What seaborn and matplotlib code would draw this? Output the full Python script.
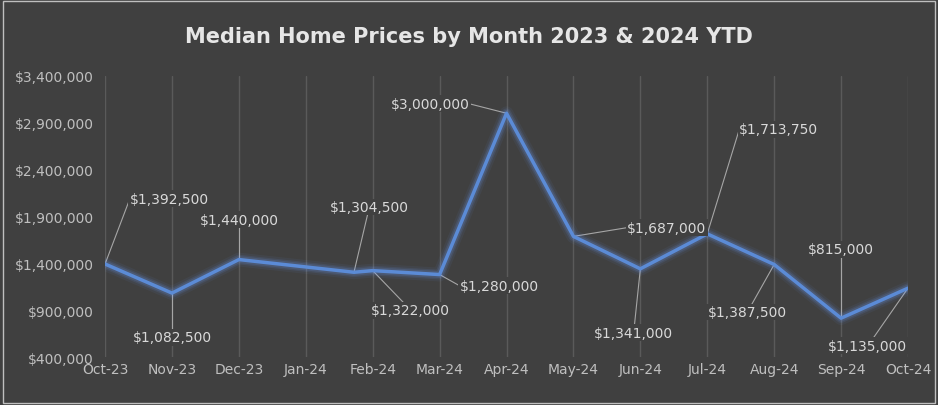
import matplotlib
matplotlib.use("Agg")
import matplotlib.pyplot as plt
import seaborn as sns
import pandas as pd

months = ["Oct-23","Nov-23","Dec-23","Jan-24","Feb-24","Mar-24","Apr-24","May-24","Jun-24","Jul-24","Aug-24","Sep-24","Oct-24"]
xpos = [0, 1, 2, 3.72, 4, 5, 6, 7, 8, 9, 10, 11, 12]
prices = [1392500, 1082500, 1440000, 1304500, 1322000, 1280000, 3000000, 1687000, 1341000, 1713750, 1387500, 815000, 1135000]
labels = ["$1,392,500","$1,082,500","$1,440,000","$1,304,500","$1,322,000","$1,280,000","$3,000,000","$1,687,000","$1,341,000","$1,713,750","$1,387,500","$815,000","$1,135,000"]
# label positions (x, y, ha)
lpos = [(0.37,2087000,"left"),(1.0,613000,"center"),(2.0,1863000,"center"),(3.95,2000000,"center"),
        (4.57,900000,"center"),(5.3,1160000,"left"),(5.45,3100000,"right"),(7.8,1780000,"left"),
        (7.9,660000,"center"),(9.48,2830000,"left"),(9.6,880000,"center"),(11.0,1550000,"center"),
        (11.4,520000,"center")]

df = pd.DataFrame({"x": xpos, "price": prices})
sns.set_style("dark")
bg = "#404040"
fig = plt.figure(figsize=(9.38, 4.06), dpi=100, facecolor=bg)
ax = fig.add_axes([0.112, 0.118, 0.856, 0.693])
ax.set_facecolor(bg)
for lw, a in [(10, 0.06), (7, 0.1), (5, 0.15)]:
    ax.plot(xpos, prices, color="#6fa0ff", lw=lw, alpha=a, solid_joinstyle="round")
sns.lineplot(data=df, x="x", y="price", ax=ax, color="#5b8bd6", lw=2.5)
for x, y, t, (tx, ty, ha) in zip(xpos, prices, labels, lpos):
    ax.plot([x, tx], [y, ty], color="#a6a6a6", lw=0.8, zorder=1)
    ax.text(tx, ty, t, color="#d9d9d9", fontsize=10, ha=ha, va="center", zorder=5,
            bbox=dict(fc=bg, ec="none", pad=1))
ax.set_xlim(0, 12)
ax.set_ylim(400000, 3400000)
ax.set_xticks(range(13))
ax.set_xticklabels(months)
yt = list(range(400000, 3400001, 500000))
ax.set_yticks(yt)
ax.set_yticklabels([f"${v:,.0f}" for v in yt])
ax.tick_params(colors="#bfbfbf", labelsize=10, length=0)
ax.tick_params(axis="y", pad=8)
ax.grid(axis="x", color="#5a5a5a", lw=1)
ax.grid(axis="y", visible=False)
for s in ax.spines.values():
    s.set_visible(False)
ax.set_xlabel(""); ax.set_ylabel("")
fig.text(0.5, 0.91, "Median Home Prices by Month 2023 & 2024 YTD", ha="center", va="center",
         color="#e6e6e6", fontsize=15, fontweight="bold")
fig.patches.append(plt.Rectangle((0.003, 0.005), 0.994, 0.99, transform=fig.transFigure,
                                 fill=False, ec="#bfbfbf", lw=1))
fig.savefig("out.png", dpi=100, facecolor=bg)
